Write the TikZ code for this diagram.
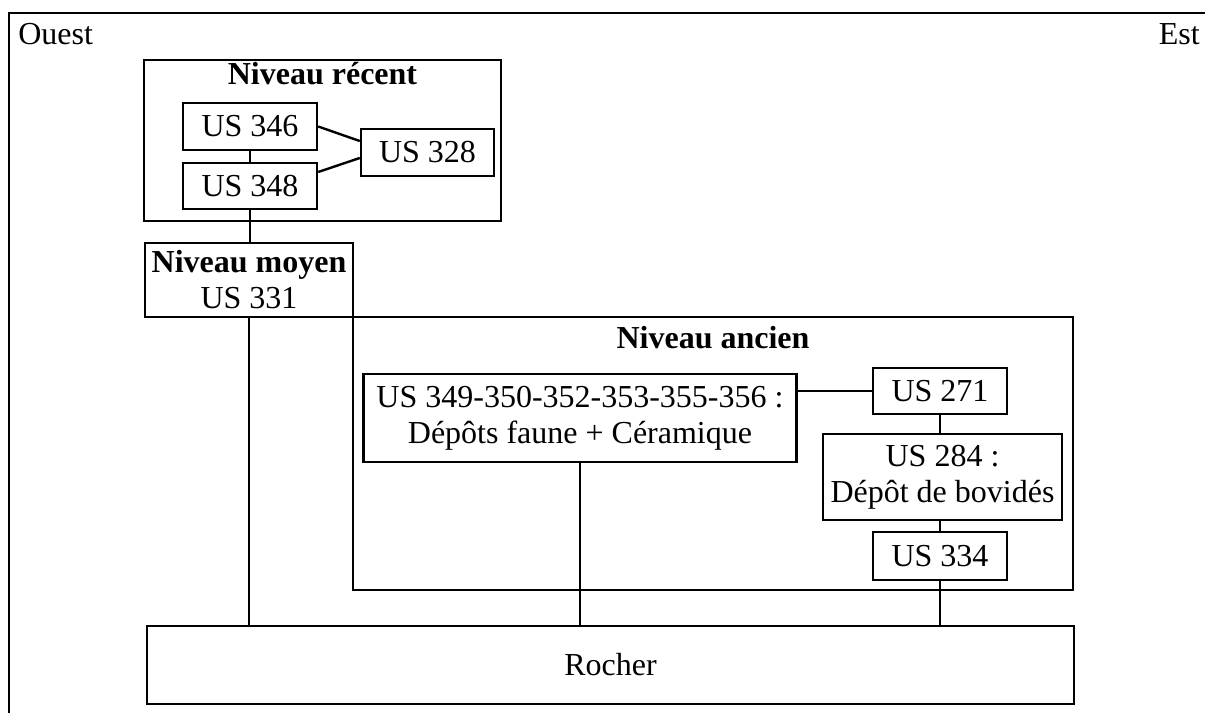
\documentclass[tikz,border=0pt]{standalone}
\usepackage{fontspec}
\setmainfont{Liberation Serif}
\begin{document}
\begin{tikzpicture}[x=0.75pt,y=-0.75pt,
  every node/.style={font=\fontsize{24}{27}\selectfont},
  box/.style={draw, line width=1.8pt, inner sep=0pt, align=center},
  link/.style={line width=1.8pt},
  title/.style={anchor=base, font=\fontsize{24}{27}\selectfont\bfseries}]
\useasboundingbox (0,0) rectangle (1205,713);
\clip (0,0) rectangle (1205,713);
% outer frame
\coordinate (frameTR) at (1230,13);
\coordinate (frameTL) at (9,13);
\coordinate (frameBL) at (9,740);
\draw[link] (frameTR) -- (frameTL) -- (frameBL);
\node[anchor=base west, inner sep=0pt] (ouest) at (18,45) {Ouest};
\node[anchor=base east, inner sep=0pt] (est) at (1200,45) {Est};
% Niveau recent
\node[box, minimum width=357*0.75pt, minimum height=161*0.75pt] (recent) at (322.5,140.5) {};
\node[title, inner sep=0pt] (recentT) at (322.5,85) {Niveau récent};
\node[box, minimum width=134*0.75pt, minimum height=47*0.75pt] (us346) at (250,126.5) {US 346};
\node[box, minimum width=134*0.75pt, minimum height=46*0.75pt] (us348) at (250,186) {US 348};
\node[box, minimum width=133*0.75pt, minimum height=47*0.75pt] (us328) at (427.5,152.5) {US 328};
% Niveau moyen
\node[box, minimum width=208*0.75pt, minimum height=74*0.75pt] (moyen) at (249,280) {\textbf{Niveau moyen}\\US 331};
% Niveau ancien
\node[box, minimum width=720*0.75pt, minimum height=273*0.75pt] (ancien) at (713,453.5) {};
\node[title, inner sep=0pt] (ancienT) at (713,348) {Niveau ancien};
\node[box, minimum width=433*0.75pt, minimum height=88*0.75pt] (us349) at (580,418) {US 349-350-352-353-355-356 :\\Dépôts faune + Céramique};
\node[box, minimum width=134*0.75pt, minimum height=46*0.75pt] (us271) at (940,391) {US 271};
\node[box, minimum width=239*0.75pt, minimum height=86*0.75pt] (us284) at (942.5,477) {US 284 :\\Dépôt de bovidés};
\node[box, minimum width=134*0.75pt, minimum height=48*0.75pt] (us334) at (940,556) {US 334};
% Rocher
\node[box, minimum width=927*0.75pt, minimum height=78*0.75pt] (rocher) at (610.5,665) {Rocher};
% connectors
\draw[link] (us346.south) -- (us348.north);
\draw[link] (us346.east) -- ([yshift=8.6pt]us328.west);
\draw[link] ([yshift=10.5pt]us348.east) -- ([yshift=-4.1pt]us328.west);
\draw[link] (us348.south) -- (us348.south |- moyen.north);
\draw[link] (moyen.south) -- (moyen.south |- rocher.north);
\draw[link] (us349.south) -- (us349.south |- rocher.north);
\draw[link] (us349.east |- us271.west) -- (us271.west);
\draw[link] (us271.south) -- (us271.south |- us284.north);
\draw[link] (us334.north |- us284.south) -- (us334.north);
\draw[link] (us334.south) -- (us334.south |- rocher.north);
\end{tikzpicture}
\end{document}
